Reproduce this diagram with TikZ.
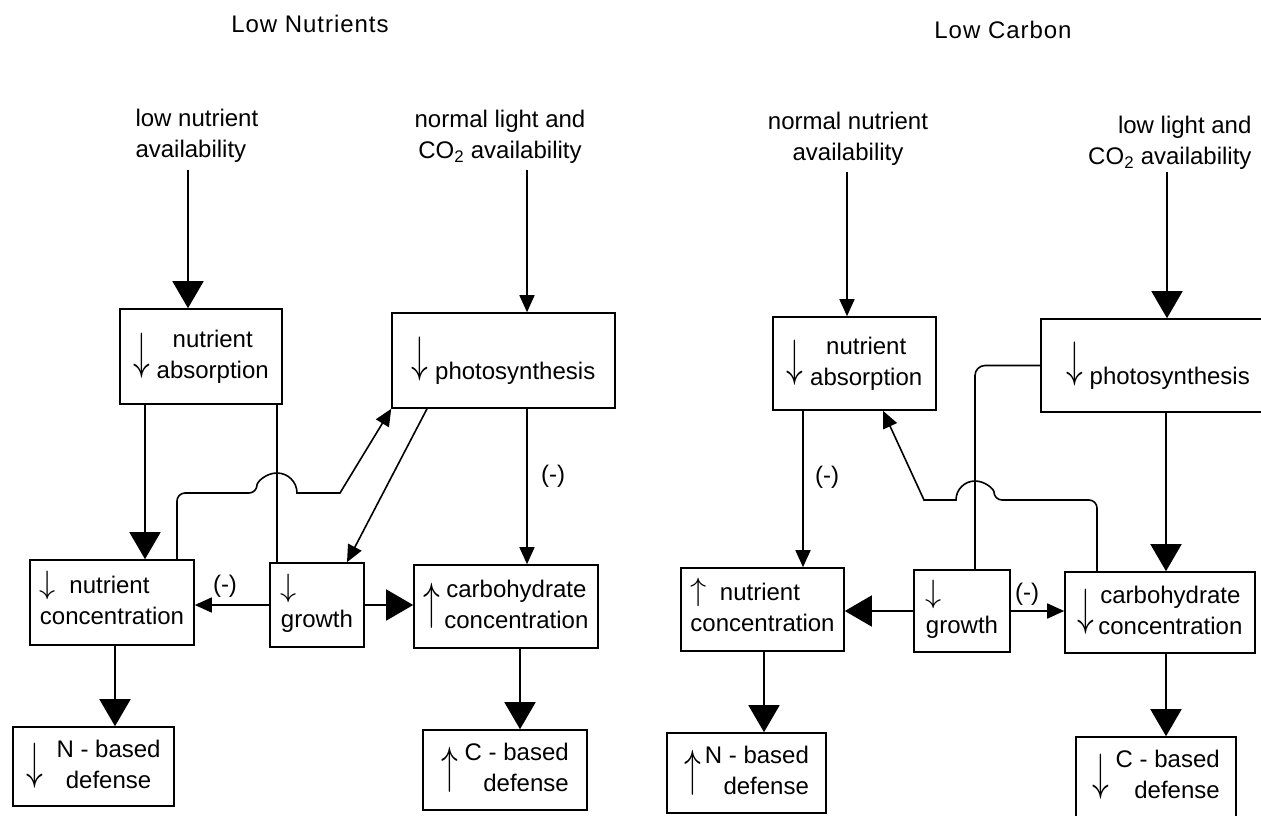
\documentclass[tikz,border=0pt]{standalone}
\usepackage{fontspec}
\setmainfont{Liberation Sans}
\usetikzlibrary{arrows.meta}

\newcommand\tallDn{\raisebox{-6pt}{\scalebox{1.35}[2.05]{$\downarrow$}}}
\newcommand\tallUp{\raisebox{-6pt}{\scalebox{1.35}[2.05]{$\uparrow$}}}
\newcommand\shortDn{\scalebox{1.3}[1.3]{$\downarrow$}}
\newcommand\shortUp{\scalebox{1.3}[1.3]{$\uparrow$}}
\newcommand\hiDn{\raisebox{8pt}{\scalebox{1.35}[2]{$\downarrow$}}}
\newcommand\twoline[3][c]{\begin{tabular}{@{}#1@{}}#2\\#3\end{tabular}}

\tikzset{
  box/.style={draw, line width=1.6pt, inner sep=0pt},
  fathead/.style={-{Triangle[width=31pt,length=27pt]}, line width=1.6pt},
  thinhead/.style={-{Triangle[width=15pt,length=17pt]}, line width=1.6pt},
  link/.style={line width=1.6pt},
  title/.style={font=\fontsize{24}{30}\selectfont\addfontfeature{LetterSpace=4}},
}

\begin{document}
\begin{tikzpicture}[x=1pt, y=-1pt, font=\fontsize{24}{31}\selectfont]
  \useasboundingbox (0,0) rectangle (1261,815);
  \clip (0,0) rectangle (1261,815);
  % low nutrients
  \node[title] (titleL) at (310,24) {Low Nutrients};
  \node[align=left, anchor=west] (availLN) at (132,136) {low nutrient\\availability};
  \node[align=center] (availLL) at (500,137) {normal light and\\CO\textsubscript{2} availability};
  \coordinate (srcLN) at (188,170);
  \coordinate (srcLL) at (527,170);
  \node[box, minimum width=162, minimum height=95] (NAL) at (201,356.5) {\tallDn\ \twoline{nutrient}{absorption}};
  \node[box, minimum width=223, minimum height=95] (PSL) at (503.5,360.5) {\hiDn\ photosynthesis};
  \node[box, minimum width=164, minimum height=85] (NCL) at (112,602.5) {\twoline[l]{\shortDn\ \ nutrient}{concentration}};
  \node[box, minimum width=94, minimum height=84] (GRL) at (317,605) {\twoline[l]{\shortDn}{growth}};
  \node[box, minimum width=184, minimum height=83] (CCL) at (506,606.5) {\tallUp\,\twoline{carbohydrate}{concentration}};
  \node[box, minimum width=161, minimum height=79] (NDL) at (93.5,766.5) {\tallDn\ \ \twoline{N - based}{defense}};
  \node[box, minimum width=164, minimum height=80] (CDL) at (505,770) {\tallUp\ \twoline[r]{C - based}{defense}};
  \draw[fathead] (srcLN) -- (srcLN |- NAL.north);
  \draw[thinhead] (srcLL) -- (srcLL |- PSL.north);
  \draw[fathead] (145,0 |- NAL.south) -- (145,0 |- NCL.north);
  \draw[link] (277,0 |- NAL.south) -- (277,0 |- GRL.north);
  \draw[thinhead] (527,0 |- PSL.south) -- (527,0 |- CCL.north);
  \node (negPC) at (553,476) {(-)};
  \draw[thinhead] (427,0 |- PSL.south) -- (347,0 |- GRL.north);
  \draw[thinhead] (177,0 |- NCL.north) [rounded corners=8pt] -- (177,493) -- (257,493)
    [sharp corners] arc[start angle=180, end angle=0, radius=20pt] -- (340,493) -- (PSL.south west);
  \draw[thinhead] (GRL.west) -- (GRL.west -| NCL.east);
  \node (negGN) at (225,586) {(-)};
  \draw[fathead] (GRL.east) -- (GRL.east -| CCL.west);
  \draw[fathead] (115,0 |- NCL.south) -- (115,0 |- NDL.north);
  \draw[fathead] (520,0 |- CCL.south) -- (520,0 |- CDL.north);
  % low carbon
  \node[title] (titleR) at (1003,30) {Low Carbon};
  \node[align=center] (availRN) at (848,139) {normal nutrient\\availability};
  \node[align=right, anchor=east] (availRL) at (1255,143) {low light and\\CO\textsubscript{2} availability};
  \coordinate (srcRN) at (847,172);
  \coordinate (srcRL) at (1167,172);
  \node[box, minimum width=163, minimum height=93] (NAR) at (854.5,363.5) {\tallDn\ \twoline{nutrient}{absorption}};
  \node[box, minimum width=234, minimum height=93] (PSR) at (1158,365.5) {\hiDn\ photosynthesis};
  \node[box, minimum width=163, minimum height=83] (NCR) at (762.5,609.5) {\twoline[l]{\shortUp\ \ nutrient}{concentration}};
  \node[box, minimum width=96, minimum height=82] (GRR) at (962,611) {\twoline[l]{\shortDn}{growth}};
  \node[box, minimum width=190, minimum height=81] (CCR) at (1160,612.5) {\tallDn\,\twoline{carbohydrate}{concentration}};
  \node[box, minimum width=159, minimum height=80] (NDR) at (746.5,773) {\tallUp\,\twoline[r]{N - based}{defense}};
  \node[box, minimum width=160, minimum height=80] (CDR) at (1156,777) {\tallDn\ \twoline[r]{C - based}{defense}};
  \draw[thinhead] (srcRN) -- (srcRN |- NAR.north);
  \draw[fathead] (srcRL) -- (srcRL |- PSR.north);
  \draw[thinhead] (803,0 |- NAR.south) -- (803,0 |- NCR.north);
  \node (negNN) at (827,477) {(-)};
  \draw[fathead] (1166,0 |- PSR.south) -- (1166,0 |- CCR.north);
  \draw[link, rounded corners=10pt] (975,0 |- GRR.north) |- (PSR.west);
  \draw[thinhead] (1097,0 |- CCR.north) [rounded corners=8pt] -- (1097,500) -- (994,500)
    [sharp corners] arc[start angle=0, end angle=180, radius=19pt] -- (924,500) -- (883,0 |- NAR.south);
  \draw[fathead] (GRR.west) -- (GRR.west -| NCR.east);
  \draw[thinhead] (GRR.east) -- (GRR.east -| CCR.west);
  \node (negGC) at (1027,594) {(-)};
  \draw[fathead] (764,0 |- NCR.south) -- (764,0 |- NDR.north);
  \draw[fathead] (1166,0 |- CCR.south) -- (1166,0 |- CDR.north);
\end{tikzpicture}
\end{document}
